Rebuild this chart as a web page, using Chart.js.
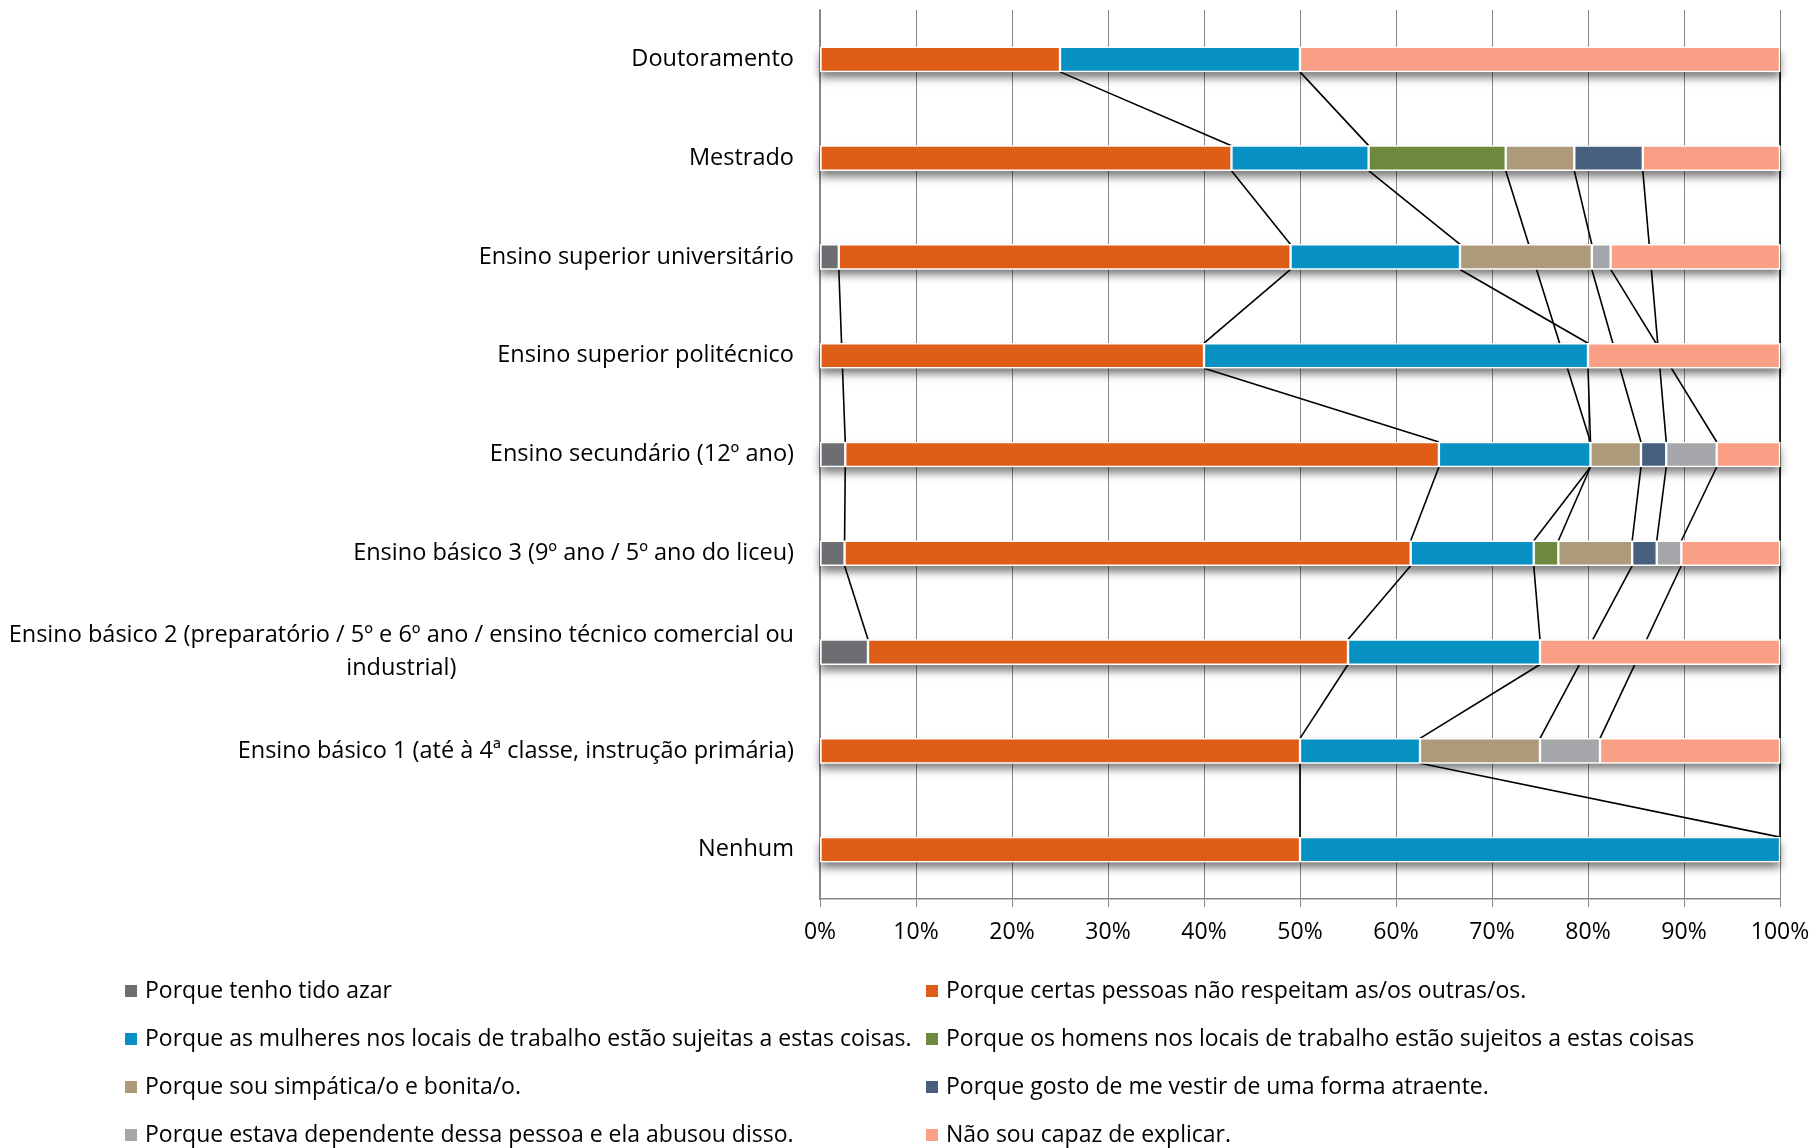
<!DOCTYPE html>
<html>
<head>
<meta charset="utf-8">
<script src="https://cdn.jsdelivr.net/npm/chart.js@4.4.1/dist/chart.umd.min.js"></script>
<style>
  html, body { margin: 0; padding: 0; background: #fff; }
  #chart { display: block; }
</style>
</head>
<body>
<canvas id="chart" width="1814" height="1148"></canvas>
<script>
// categories, top to bottom
const categories = [
  'Doutoramento',
  'Mestrado',
  'Ensino superior universitário',
  'Ensino superior politécnico',
  'Ensino secundário (12º ano)',
  'Ensino básico 3 (9º ano / 5º ano do liceu)',
  ['Ensino básico 2 (preparatório / 5º e 6º ano / ensino técnico comercial ou', 'industrial)'],
  'Ensino básico 1 (até à 4ª classe, instrução primária)',
  'Nenhum'
];

const seriesNames = [
  'Porque tenho tido azar',
  'Porque certas pessoas não respeitam as/os outras/os.',
  'Porque as mulheres nos locais de trabalho estão sujeitas a estas coisas.',
  'Porque os homens nos locais de trabalho estão sujeitos a estas coisas',
  'Porque sou simpática/o e bonita/o.',
  'Porque gosto de me vestir de uma forma atraente.',
  'Porque estava dependente dessa pessoa e ela abusou disso.',
  'Não sou capaz de explicar.'
];

const seriesColors = ['#6d6e72', '#de5e18', '#0790c2', '#6e893e', '#ad9a7b', '#48607f', '#a5a6a9', '#f89f86'];

// percentages per category (null = no answer, line skips it)
const azar        = [null, null, 1.96, null, 2.63, 2.56, 5, null, null];
const naoRespeitam = [25, 42.86, 47.06, 40, 61.84, 58.97, 50, 50, 50];
const mulheres    = [25, 14.29, 17.65, 40, 15.79, 12.82, 20, 12.5, 50];
const homens      = [null, 14.28, null, null, 0, 2.56, null, null, null];
const simpatica   = [null, 7.14, 13.73, null, 5.26, 7.69, null, 12.5, null];
const vestir      = [null, 7.14, null, null, 2.63, 2.56, null, null, null];
const dependente  = [null, null, 1.96, null, 5.26, 2.56, null, 6.25, null];
const naoSei      = [50, 14.29, 17.64, 20, 6.59, 10.28, 25, 18.75, 0];

const seriesValues = [azar, naoRespeitam, mulheres, homens, simpatica, vestir, dependente, naoSei];

const xTicks = [0, 10, 20, 30, 40, 50, 60, 70, 80, 90, 100];

const FONT = '23.5px "Open Sans"';
const LEGEND_FONT = '23px "Open Sans"';

const seriesLines = {
  id: 'seriesLines',
  beforeDatasetsDraw(chart) {
    const ctx = chart.ctx;
    const xs = chart.scales.x;
    ctx.save();
    ctx.strokeStyle = '#000';
    ctx.lineWidth = 1.6;
    chart.data.datasets.forEach((ds, i) => {
      const els = chart.getDatasetMeta(i).data;
      let prev = null;
      ds.data.forEach((v, j) => {
        if (v === null) return;
        const el = els[j];
        if (prev) {
          ctx.beginPath();
          ctx.moveTo(prev.x, prev.y + prev.height / 2);
          ctx.lineTo(el.x, el.y - el.height / 2);
          ctx.stroke();
        }
        prev = el;
      });
    });
    // soft shadow under each bar
    const ref = chart.getDatasetMeta(1).data;
    const x0 = xs.getPixelForValue(0), x1 = xs.getPixelForValue(100);
    ref.forEach(el => {
      ctx.save();
      ctx.shadowColor = 'rgba(0,0,0,0.5)';
      ctx.shadowBlur = 8;
      ctx.shadowOffsetY = 6;
      ctx.fillStyle = '#fff';
      ctx.fillRect(x0, el.y - el.height / 2, x1 - x0, el.height);
      ctx.restore();
    });
    ctx.restore();
  }
};

const catLabels = {
  id: 'catLabels',
  afterDraw(chart) {
    const ctx = chart.ctx;
    const ys = chart.scales.y;
    const right = ys.right - 26;
    ctx.save();
    ctx.font = FONT;
    ctx.fillStyle = '#000';
    ctx.textAlign = 'center';
    ctx.textBaseline = 'middle';
    categories.forEach((lab, j) => {
      const lines = Array.isArray(lab) ? lab : [lab];
      const w = Math.max(...lines.map(l => ctx.measureText(l).width));
      const cx = right - w / 2;
      const cy = ys.getPixelForValue(j);
      lines.forEach((l, k) => {
        ctx.fillText(l, cx, cy + (k - (lines.length - 1) / 2) * 32.5);
      });
    });
    ctx.restore();
  }
};

const legendGrid = {
  id: 'legendGrid',
  afterDraw(chart) {
    const ctx = chart.ctx;
    const colX = [125, 926];
    const rowY0 = 991, rowStep = 48;
    ctx.save();
    ctx.font = LEGEND_FONT;
    ctx.textBaseline = 'middle';
    ctx.textAlign = 'left';
    seriesNames.forEach((name, i) => {
      const x = colX[i % 2];
      const y = rowY0 + Math.floor(i / 2) * rowStep;
      ctx.fillStyle = seriesColors[i];
      ctx.fillRect(x, y - 6, 12, 12);
      ctx.fillStyle = '#000';
      ctx.fillText(name, x + 20, y);
    });
    ctx.restore();
  }
};

new Chart(document.getElementById('chart'), {
  type: 'bar',
  data: {
    labels: categories,
    datasets: seriesNames.map((name, i) => ({
      label: name,
      data: seriesValues[i],
      backgroundColor: seriesColors[i],
      borderColor: '#ffffff',
      borderWidth: 1.5,
      borderSkipped: false,
      barThickness: 25
    }))
  },
  options: {
    indexAxis: 'y',
    responsive: false,
    animation: false,
    devicePixelRatio: 1,
    layout: { padding: { left: 0, right: 34, top: 10, bottom: 190 } },
    plugins: {
      legend: { display: false },
      tooltip: { enabled: false }
    },
    scales: {
      x: {
        stacked: true,
        min: 0,
        max: 100,
        afterBuildTicks(scale) {
          scale.ticks = xTicks.map(v => ({ value: v }));
        },
        afterFit(scale) {
          scale.height = 59;
          scale.paddingLeft = 0;
          scale.paddingRight = 0;
        },
        grid: { color: '#878787', lineWidth: 1, drawTicks: true, tickLength: 8, tickColor: '#878787' },
        border: { display: true, color: '#878787', width: 1.5 },
        ticks: {
          padding: 12,
          color: '#000',
          font: { family: 'Open Sans', size: 23 },
          maxRotation: 0,
          callback: v => v + '%'
        }
      },
      y: {
        stacked: true,
        afterFit(scale) { scale.width = 820; },
        grid: { display: false },
        border: { display: true, color: '#878787', width: 1.5 },
        ticks: { display: false }
      }
    }
  },
  plugins: [seriesLines, catLabels, legendGrid]
});
</script>
</body>
</html>
